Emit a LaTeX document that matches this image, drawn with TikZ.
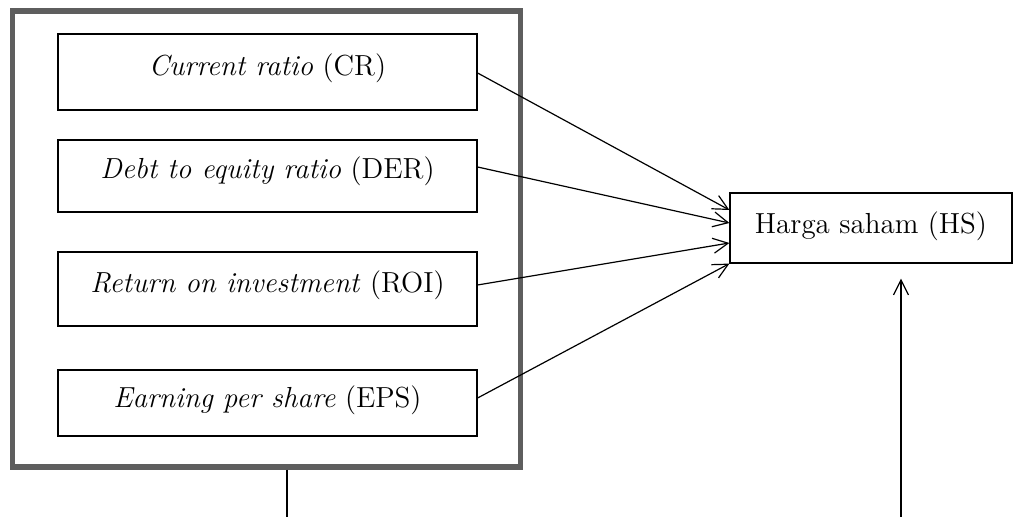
\documentclass[tikz,border=0pt]{standalone}
\usetikzlibrary{arrows.meta}
\begin{document}
\begin{tikzpicture}[x=0.5pt,y=-0.5pt,
  outerbox/.style={draw=black!63,line width=2.6pt,rectangle,minimum width=254pt,minimum height=228pt,inner sep=0pt},
  varbox/.style={draw,line width=0.6pt,rectangle,minimum width=209.5pt,inner sep=0pt,font=\fontsize{14.5}{17}\selectfont},
  link/.style={line width=0.6pt,-{Straight Barb[length=7.5pt,width=7.5pt,line width=0.6pt]}}]
\useasboundingbox (0,0) rectangle (1024,517);
\node[outerbox] (grp) at (266.75,239) {};
\node[varbox,minimum height=38pt] (cr) at (267.5,72) {\raisebox{7pt}{\textit{Current ratio} (CR)}};
\node[varbox,minimum height=36pt] (der) at (267.5,176) {\raisebox{8pt}{\textit{Debt to equity ratio} (DER)}};
\node[varbox,minimum height=37pt] (roi) at (267.5,289) {\raisebox{7pt}{\textit{Return on investment} (ROI)}};
\node[varbox,minimum height=33pt] (eps) at (267.5,403) {\raisebox{6pt}{\textit{Earning per share} (EPS)}};
\node[varbox,minimum width=141pt,minimum height=35pt] (hs) at (871,228) {\raisebox{5pt}{Harga saham (HS)}};
\coordinate (b1) at (287,517);
\coordinate (b2) at (901,517);
\draw[link] ([yshift=-0.5pt]cr.east) -- ([yshift=9pt]hs.west);
\draw[link] ([yshift=4.5pt]der.east) -- ([yshift=2.5pt]hs.west);
\draw[link] ([yshift=2pt]roi.east) -- ([yshift=-7.5pt]hs.west);
\draw[link] ([yshift=2.5pt]eps.east) -- (hs.south west);
\draw[line width=0.6pt] (b1 |- grp.south) -- (b1);
\draw[link,shorten >=7.5pt] (b2) -- (b2 |- hs.south);
\end{tikzpicture}
\end{document}
